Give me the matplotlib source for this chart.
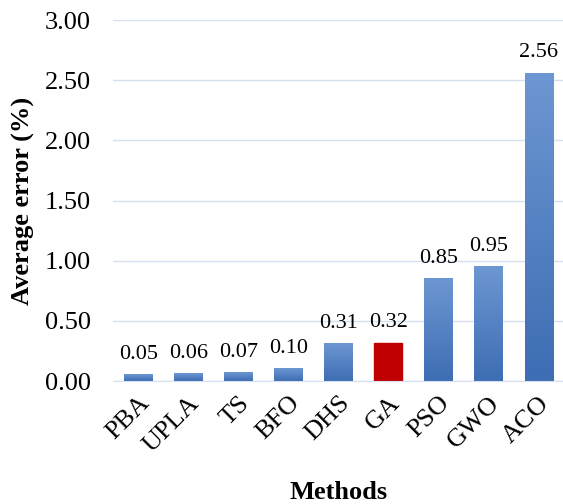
import numpy as np
import matplotlib.pyplot as plt
from matplotlib.colors import LinearSegmentedColormap

methods = ['PBA', 'UPLA', 'TS', 'BFO', 'DHS', 'GA', 'PSO', 'GWO', 'ACO']
avg_error = [0.05, 0.06, 0.07, 0.10, 0.31, 0.32, 0.85, 0.95, 2.56]
highlight = 'GA'

plt.rcParams['font.family'] = 'Liberation Serif'

fig = plt.figure(figsize=(5.63, 5.04), dpi=100)
ax = fig.add_axes([0.201, 0.244, 0.80, 0.716])

x = np.arange(len(methods))
bars = ax.bar(x, avg_error, width=0.56, color='#4a7cc0', zorder=2)

# vertical gradient for the blue bars, plain red for the highlighted one
blue_grad = LinearSegmentedColormap.from_list('bg', ['#3d6db3', '#6d97d2'])
grad = np.linspace(0, 1, 256).reshape(-1, 1)
for b, name in zip(bars, methods):
    if name == highlight:
        b.set_color('#c00000')
        continue
    x0, y0 = b.get_x(), b.get_y()
    w, h = b.get_width(), b.get_height()
    b.set_alpha(0)
    ax.imshow(grad, cmap=blue_grad, origin='lower', aspect='auto',
              extent=(x0, x0 + w, y0, y0 + h), zorder=2)

for xi, v in zip(x, avg_error):
    ax.text(xi, v + 0.09, '{:.2f}'.format(v), ha='center', va='bottom', fontsize=16)

ax.set_xlim(-0.5, len(methods) - 0.5)
ax.set_ylim(0, 3.0)
ax.set_yticks(np.arange(0, 3.01, 0.5))
ax.set_yticklabels(['{:.2f}'.format(t) for t in np.arange(0, 3.01, 0.5)], fontsize=19)
ax.set_xticks(x)
ax.set_xticklabels(methods, rotation=45, ha='right', rotation_mode='anchor', fontsize=19)
ax.tick_params(length=0, pad=8)
ax.tick_params(axis='y', pad=16)

ax.grid(axis='y', color='#d6e0f0', linewidth=1, zorder=0)
ax.set_axisbelow(True)
for s in ['top', 'right', 'left']:
    ax.spines[s].set_visible(False)
ax.spines['bottom'].set_color('#d6e0f0')

ax.set_ylabel('Average error (%)', fontsize=19, fontweight='bold', labelpad=7)
ax.set_xlabel('Methods', fontsize=19, fontweight='bold', labelpad=18)

fig.savefig('out.png', dpi=100)
